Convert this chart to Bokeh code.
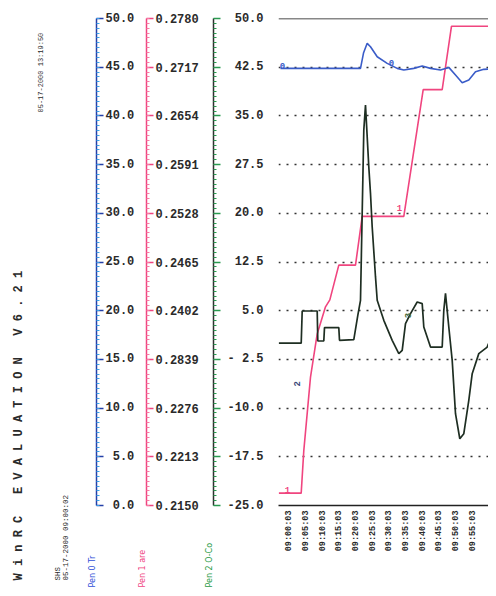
import numpy as np
from math import pi
from bokeh.plotting import figure
from bokeh.models import Range1d, FixedTicker, Span, Label
from bokeh.layouts import row
from bokeh.embed import file_html
from bokeh.resources import INLINE
from bokeh.core.properties import value

# ---------------- data ----------------
# time in minutes after 09:00:00
time_ticks = [0, 5, 10, 15, 20, 25, 30, 35, 40, 45, 50, 55, 60]
time_labels = ["09:00:03", "09:05:03", "09:10:03", "09:15:03", "09:20:03", "09:25:03",
               "09:30:03", "09:35:03", "09:40:03", "09:45:03", "09:50:03", "09:55:03", "10:00:03"]

blue_ticks = [0, 5, 10, 15, 20, 25, 30, 35, 40, 45, 50]
blue_labels = ["\u00a00.0", "\u00a05.0", "10.0", "15.0", "20.0", "25.0", "30.0", "35.0", "40.0", "45.0", "50.0"]
pink_ticks = [0.2150, 0.2213, 0.2276, 0.2339, 0.2402, 0.2465, 0.2528, 0.2591, 0.2654, 0.2717, 0.2780]
pink_labels = ["0.2150", "0.2213", "0.2276", "0.2839", "0.2402", "0.2465", "0.2528", "0.2591", "0.2654", "0.2717", "0.2780"]
green_ticks = [-25, -17.5, -10, -2.5, 5, 12.5, 20, 27.5, 35, 42.5, 50]
green_labels = ["-25.0", "-17.5", "-10.0", "-\u00a02.5", "\u00a0\u00a05.0", "\u00a012.5", "\u00a020.0",
                "\u00a027.5", "\u00a035.0", "\u00a042.5", "\u00a050.0"]

# Pen 0 Tr (blue scale)
pen0_t = [-2.65, 21.35, 22.25, 23.36, 24.35, 26.36, 29.36, 32.36, 34.34, 37.34, 39.86, 42.35,
          45.35, 47.84, 49.85, 51.86, 53.84, 55.85, 58.34, 59.75]
pen0_v = [44.88, 44.88, 46.45, 47.45, 47.1, 46.07, 45.39, 44.88, 44.71, 44.88, 45.12, 44.88,
          44.71, 44.98, 44.19, 43.4, 43.68, 44.53, 44.78, 44.81]

# Pen 1 are (pink scale)
pen1_t = [-3.16, 3.56, 4.34, 6.35, 8.36, 10.85, 12.15, 14.84, 19.85, 21.86, 34.34, 40.16, 45.86, 48.65, 59.75]
pen1_v = [0.2166, 0.2166, 0.2221, 0.2316, 0.2372, 0.2407, 0.2416, 0.2461, 0.2461, 0.2524,
          0.2524, 0.2688, 0.2688, 0.2770, 0.2770]

# Pen 2 O-Co (green scale)
pen2_t = [-3.16, 3.56, 3.86, 8.36, 8.54, 10.34, 10.55, 14.84, 15.05, 19.34, 20.54, 21.35, 22.34,
          22.85, 23.84, 24.35, 24.86, 25.85, 26.36, 28.34, 30.86, 32.84, 33.86, 34.85, 36.35, 38.36,
          39.86, 40.34, 42.35, 45.86, 46.34, 46.85, 47.84, 48.86, 49.85, 51.14, 52.34, 53.84, 54.86,
          56.84, 59.36, 59.75]
pen2_v = [0.0, 0.0, 4.95, 4.95, 0.33, 0.33, 2.39, 2.39, 0.44, 0.54, 4.29, 6.6, 32.81,
          36.66, 27.15, 23.05, 17.9, 10.2, 6.6, 3.52, 0.44, -1.61, -1.11, 3.01, 4.55, 6.34,
          6.09, 2.49, -0.6, -0.6, 5.06, 7.68, 2.49, -2.65, -10.86, -14.72, -13.95, -8.81, -4.7,
          -1.61, -0.6, -0.07]

title_text = "WinRC EVALUATION V6.21"
print_date = "05-17-2000 13:19:50"
site_text = "SHS"
start_date = "05-17-2000 09:00:02"
pen_names = ["Pen 0 Tr", "Pen 1 are", "Pen 2 O-Co"]

# ---------------- styling ----------------
FONT = "Liberation Mono"
BLUE = "#3a5cc8"
PINK = "#f0457f"
GREEN_LINE = "#1e2e22"
TXT = "#2a2a2a"
TOP = 18
FH_MAIN = 487
PX = FH_MAIN / 50.0
FH_AX = 570
SPAN = FH_AX / PX


def yb(sy):
    return 50 - (sy - 18) / PX


def axis_fig(frame_w, bl, br, yr, bounds, ticks, labels, minor, line_col, major_col, minor_col):
    p = figure(frame_width=frame_w, frame_height=FH_AX, min_border_left=bl, min_border_right=br,
               min_border_top=TOP, min_border_bottom=0,
               x_range=Range1d(0, frame_w), y_range=Range1d(*yr),
               toolbar_location=None, output_backend="svg",
               x_axis_location=None, y_axis_location="right")
    p.outline_line_color = None
    p.grid.visible = False
    p.background_fill_color = None
    p.border_fill_color = "white"
    ax = p.yaxis[0]
    ax.bounds = bounds
    ax.ticker = FixedTicker(ticks=ticks, minor_ticks=minor)
    ax.major_label_overrides = dict(zip(ticks, labels))
    ax.axis_line_color = line_col
    ax.axis_line_width = 1.5
    ax.major_tick_line_color = major_col
    ax.major_tick_line_width = 1.5
    ax.minor_tick_line_color = minor_col
    ax.minor_tick_line_width = 1.2
    ax.major_tick_out = 7
    ax.major_tick_in = 0
    ax.minor_tick_out = 3
    ax.minor_tick_in = 0
    ax.major_label_standoff = 2
    ax.major_label_text_font = FONT
    ax.major_label_text_font_style = "bold"
    ax.major_label_text_font_size = "12px"
    ax.major_label_text_color = TXT
    return p


# blue frame 8..96, pink frame 137..146, green frame 203..213, main from 278
PINK_FW = 9
GREEN_FW = 10
fb = axis_fig(88, 8, 41, (50 - SPAN, 50), (0, 50), blue_ticks, blue_labels,
              list(np.arange(0, 50.01, 0.5)), "#2440a8", "#2440a8", "#3aa0e8")
fp = axis_fig(PINK_FW, 0, 57, (0.2780 - SPAN * 0.00126, 0.2780), (0.2150, 0.2780), pink_ticks, pink_labels,
              list(np.arange(0.2150, 0.27801, 0.00063)), PINK, PINK, "#f77aa5")
fg = axis_fig(GREEN_FW, 0, 64, (50 - SPAN * 1.5, 50), (-25, 50), green_ticks, green_labels,
              list(np.arange(-25, 50.01, 0.75)), "#303030", "#2a9a50", "#2a9a50")
fg.yaxis[0].major_label_standoff = 7

# left texts
spaced_title = "\u00a0\u00a0\u00a0".join("\u00a0".join(w) for w in title_text.split(" "))
fb.add_layout(Label(x=10, y=yb(580), text=spaced_title, angle=pi / 2, text_font=FONT,
                    text_font_style="bold", text_font_size="12px", text_color=TXT,
                    text_align="left", text_baseline="middle"))
fb.add_layout(Label(x=32, y=yb(112), text=print_date, angle=pi / 2, text_font=FONT,
                    text_font_size="7px", text_color=TXT, text_align="left", text_baseline="middle"))
fb.add_layout(Label(x=49, y=yb(580), text=site_text, angle=pi / 2, text_font=FONT,
                    text_font_size="7.5px", text_color=TXT, text_align="left", text_baseline="middle"))
fb.add_layout(Label(x=57, y=yb(580), text=start_date, angle=pi / 2, text_font=FONT,
                    text_font_size="7.5px", text_color=TXT, text_align="left", text_baseline="middle"))
fb.add_layout(Label(x=88, y=yb(587), text=pen_names[0], angle=pi / 2, text_font="DejaVu Sans",
                    text_font_size="8px", text_color="#3050d8", text_align="left", text_baseline="bottom"))
fp.add_layout(Label(x=PINK_FW, y=0.2780 - (587 - 18) / PX * 0.00126, text=pen_names[1], angle=pi / 2,
                    text_font="DejaVu Sans", text_font_size="8px", text_color=PINK, text_align="left",
                    text_baseline="bottom"))
fg.add_layout(Label(x=GREEN_FW, y=50 - (587 - 18) / PX * 1.5, text=pen_names[2], angle=pi / 2,
                    text_font="DejaVu Sans", text_font_size="8px", text_color="#1f9a45", text_align="left",
                    text_baseline="bottom"))

# ---------------- main plot ----------------
p = figure(frame_width=210, frame_height=FH_MAIN, min_border_left=1, min_border_right=0,
           min_border_top=TOP, min_border_bottom=83,
           x_range=Range1d(-3.25, 59.75), y_range=Range1d(0, 50),
           toolbar_location=None, output_backend="svg", y_axis_location=None)
p.outline_line_color = None
p.extra_y_ranges = {"pink": Range1d(0.2150, 0.2780), "green": Range1d(-25, 50)}

p.ygrid.ticker = FixedTicker(ticks=[5, 10, 15, 20, 25, 30, 35, 40, 45])
p.ygrid.grid_line_color = "#333333"
p.ygrid.grid_line_dash = "2 6"
p.ygrid.grid_line_width = 1.3
p.xgrid.visible = False
p.add_layout(Span(location=50, dimension="width", line_color="#111111", line_width=1.5))

xa = p.xaxis[0]
xa.ticker = FixedTicker(ticks=time_ticks)
xa.major_label_overrides = dict(zip(time_ticks, time_labels))
xa.major_label_orientation = pi / 2
xa.major_label_text_font = FONT
xa.major_label_text_font_style = "bold"
xa.major_label_text_font_size = "8.5px"
xa.major_label_text_color = TXT
xa.major_label_standoff = 5
xa.axis_line_color = "#222222"
xa.axis_line_width = 1.5
xa.major_tick_out = 0
xa.major_tick_in = 0
xa.minor_tick_line_color = None

p.line(pen1_t, pen1_v, y_range_name="pink", line_color=PINK, line_width=1.6)
p.line(pen0_t, pen0_v, line_color=BLUE, line_width=1.6)
p.line(pen2_t, pen2_v, y_range_name="green", line_color=GREEN_LINE, line_width=1.7)

# pen markers
p.text(x=[-2.05, 30.65], y=[45.1, 45.4], text=["0", "0"], text_font=value(FONT),
       text_font_size="9px", text_color=BLUE, text_font_style="bold",
       text_align="center", text_baseline="middle")
p.text(x=[-0.55, 33.05], y=[1.64, 30.5], text=["1", "1"], text_font=value(FONT),
       text_font_size="9px", text_color=PINK, text_font_style="bold",
       text_align="center", text_baseline="middle")
p.text(x=[2.15], y=[12.5], text=["2"], angle=pi / 2, text_font=value(FONT),
       text_font_size="9px", text_color="#3a4a7a", text_font_style="bold",
       text_align="center", text_baseline="middle")
p.text(x=[35.45], y=[19.5], text=["3"], angle=pi / 2, text_font=value(FONT),
       text_font_size="9px", text_color="#4a6a3a", text_font_style="bold",
       text_align="center", text_baseline="middle")

layout = row(fb, fp, fg, p)
open("out.html", "w").write(file_html(layout, INLINE))
